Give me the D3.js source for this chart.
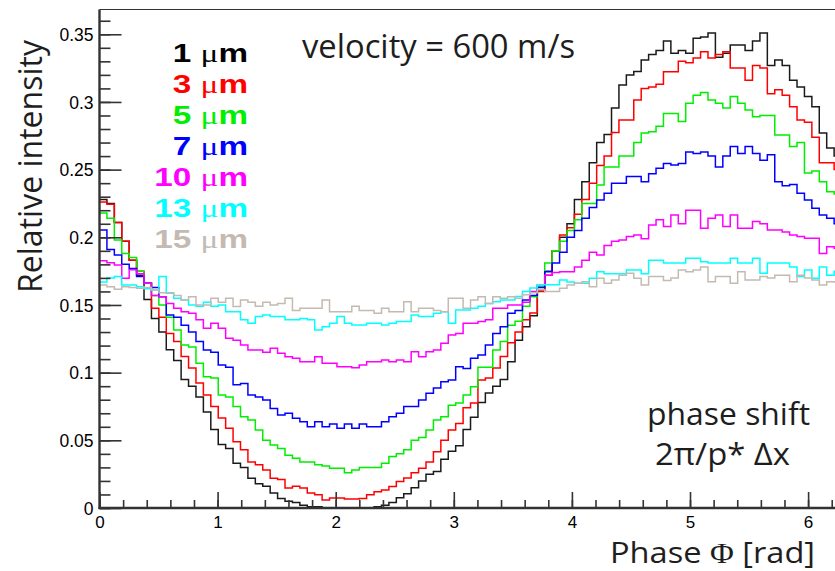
<!DOCTYPE html>
<html>
<head>
<meta charset="utf-8">
<script src="https://cdn.jsdelivr.net/npm/d3@7"></script>
<style>
  html, body { margin: 0; padding: 0; background: #fff; }
  svg { display: block; }
</style>
</head>
<body>
<svg id="chart" width="835" height="571"></svg>
<script>
// ---------------- DATA ----------------
const legendLabels = ["1", "3", "5", "7", "10", "13", "15"];
const seriesColors = ["#1a1a1a", "#ff0000", "#00ee00", "#0000ff", "#ff00ff", "#00ffff", "#c4bab2"];
const nBins = 100;
const phaseMax = 2 * Math.PI;

const s1um = [
  .228,.225,.211,.197,.183,.172,.154,.140,.130,.117,
  .109,.095,.090,.082,.071,.058,.047,.044,.033,.030,
  .022,.018,.016,.011,.007,.005,.004,.002,.001,.001,
  .000,.000,.000,.000,.000,.000,.000,.001,.002,.004,
  .0075,.0105,.015,.020,.025,.027,.036,.042,.046,.058,
  .067,.078,.085,.090,.095,.108,.124,.134,.142,.161,
  .175,.190,.200,.210,.228,.241,.255,.270,.276,.2955,
  .3125,.320,.3225,.331,.335,.338,.345,.336,.338,.336,
  .347,.348,.351,.333,.336,.342,.342,.338,.345,.351,
  .327,.331,.327,.316,.311,.304,.2965,.277,.266,.260
];
const s3um = [
  .226,.2245,.211,.197,.183,.175,.166,.1475,.141,.129,
  .123,.112,.1034,.0923,.0835,.075,.0665,.059,.049,.043,
  .034,.032,.028,.022,.021,.0148,.016,.0148,.011,.0097,
  .006,.0073,.0073,.0066,.0066,.007,.0097,.012,.0133,.0158,
  .0195,.0222,.026,.0293,.034,.0416,.050,.0576,.0625,.074,
  .0776,.0946,.096,.1034,.112,.122,.130,.139,.144,.160,
  .172,.190,.2017,.207,.217,.228,.240,.253,.260,.2775,
  .2867,.2867,.3015,.310,.311,.313,.3224,.3224,.330,.329,
  .3325,.337,.3325,.335,.337,.325,.325,.316,.327,.325,
  .306,.309,.305,.2965,.2867,.285,.274,.255,.255,.250
];
const s5um = [
  .218,.214,.198,.188,.185,.175,.166,.157,.150,.141,
  .1315,.1204,.119,.107,.097,.096,.0835,.082,.075,.0675,
  .065,.0576,.050,.0465,.044,.039,.0367,.034,.034,.032,
  .031,.0293,.0293,.026,.028,.030,.030,.030,.033,.038,
  .040,.043,.050,.052,.0576,.065,.0675,.076,.0776,.0835,
  .0896,.104,.104,.1167,.123,.135,.138,.149,.156,.1635,
  .181,.190,.197,.205,.213,.225,.225,.2387,.252,.252,
  .260,.260,.270,.277,.278,.282,.2915,.2915,.2855,.299,
  .305,.307,.3015,.299,.2955,.304,.299,.294,.289,.290,
  .290,.2756,.2756,.267,.270,.2475,.249,.241,.2337,.232
];
const s7um = [
  .2054,.191,.187,.180,.177,.171,.166,.163,.156,.1426,
  .141,.135,.130,.123,.1167,.115,.1057,.104,.091,.092,
  .0835,.082,.0798,.0736,.0687,.070,.0663,.0638,.060,.0638,
  .060,.062,.0589,.062,.0589,.062,.060,.060,.0638,.0675,
  .070,.075,.075,.0798,.0847,.0886,.0933,.0946,.1044,.103,
  .1106,.113,.1204,.129,.134,.1438,.146,.1537,.157,.163,
  .1746,.181,.189,.200,.205,.214,.222,.2276,.2325,.240,
  .240,.245,.245,.241,.247,.251,.2545,.2535,.2545,.263,
  .262,.263,.260,.252,.260,.267,.262,.267,.262,.257,
  .261,.241,.238,.239,.2325,.2276,.2215,.2165,.214,.210
];
const s10um = [
  .1827,.1812,.1795,.1697,.176,.173,.166,.157,.156,.151,
  .1475,.145,.1438,.139,.1328,.1365,.1328,.1254,.124,.1204,
  .1167,.1167,.115,.118,.1143,.1118,.1106,.108,.108,.1118,
  .107,.107,.1044,.1044,.1036,.1057,.108,.108,.1094,.108,
  .1094,.108,.1155,.1118,.1155,.1167,.1217,.1278,.129,.1365,
  .1365,.1377,.139,.1475,.1475,.150,.150,.152,.160,.165,
  .172,.174,.1746,.1746,.178,.183,.189,.187,.194,.197,
  .198,.2005,.2017,.199,.209,.213,.208,.2165,.210,.220,
  .220,.2066,.214,.2165,.208,.2165,.2066,.2066,.2116,.210,
  .2054,.2054,.204,.2017,.2005,.1993,.1993,.188,.193,.192
];
const s13um = [
  .167,.170,.171,.1648,.1648,.1635,.162,.161,.171,.1586,
  .155,.1537,.150,.149,.152,.149,.150,.145,.145,.139,
  .1365,.1414,.1426,.1414,.1414,.139,.139,.140,.139,.1315,
  .134,.1365,.1414,.1365,.1352,.1352,.1365,.1365,.1352,.1365,
  .1377,.1377,.1426,.1414,.1414,.1438,.145,.1365,.1463,.1463,
  .1475,.149,.151,.1524,.1537,.1537,.1562,.160,.1625,.165,
  .165,.165,.1685,.167,.166,.166,.1697,.1746,.173,.173,
  .173,.1758,.1758,.173,.183,.183,.181,.181,.181,.1845,
  .1845,.182,.181,.181,.181,.1845,.181,.181,.1845,.1734,
  .181,.181,.181,.178,.171,.1758,.1697,.178,.172,.175
];
const s15um = [
  .1648,.1635,.1616,.1635,.163,.1623,.163,.161,.159,.159,
  .157,.1537,.156,.150,.150,.155,.152,.155,.1488,.1537,
  .152,.149,.152,.150,.151,.155,.146,.1475,.1475,.1475,
  .1537,.145,.145,.145,.149,.146,.146,.1438,.1475,.145,
  .145,.1524,.145,.1475,.1475,.146,.145,.155,.155,.1475,
  .1537,.156,.151,.156,.155,.156,.155,.1575,.159,.1612,
  .160,.160,.1623,.1648,.166,.1672,.1635,.1697,.166,.1685,
  .172,.1734,.1697,.1648,.171,.171,.168,.170,.1758,.1746,
  .1758,.178,.1672,.171,.171,.166,.1746,.1685,.1685,.171,
  .170,.172,.172,.1672,.172,.170,.1685,.1648,.1672,.167
];
const allSeries = [s1um, s3um, s5um, s7um, s10um, s13um, s15um];

const yMajorTicks = [0, 0.05, 0.1, 0.15, 0.2, 0.25, 0.3, 0.35];
const yMajorLabels = ["0", "0.05", "0.1", "0.15", "0.2", "0.25", "0.3", "0.35"];
const xMajorTicks = [0, 1, 2, 3, 4, 5, 6];
const xMajorLabels = ["0", "1", "2", "3", "4", "5", "6"];

// ---------------- LAYOUT ----------------
const svg = d3.select("#chart");
const plotLeft = 99.5, plotBottom = 508, plotTop = 9.5, pxPerRad = 118.1;
const x = d3.scaleLinear().domain([0, phaseMax]).range([plotLeft, plotLeft + phaseMax * pxPerRad]);
const y = d3.scaleLinear().domain([0, 0.3683]).range([plotBottom, plotTop]);

svg.append("defs").append("clipPath").attr("id", "plotclip")
  .append("rect").attr("x", plotLeft).attr("y", plotTop).attr("width", 760).attr("height", plotBottom - plotTop);

// histograms
const binW = phaseMax / nBins;
const line = d3.line().x(d => x(d[0])).y(d => y(d[1]));
const gHist = svg.append("g").attr("clip-path", "url(#plotclip)");
allSeries.forEach((vals, si) => {
  const pts = [];
  vals.forEach((v, i) => { pts.push([i * binW, v]); pts.push([(i + 1) * binW, v]); });
  gHist.append("path").attr("d", line(pts))
    .attr("fill", "none").attr("stroke", seriesColors[si])
    .attr("stroke-width", 1.5).attr("stroke-linejoin", "miter");
});

// frame
svg.append("line").attr("x1", plotLeft).attr("x2", 835).attr("y1", plotTop).attr("y2", plotTop)
  .attr("stroke", "#333").attr("stroke-width", 1.2);

// Y axis
const yMinor = d3.range(0, 0.3651, 0.01);
const yAxisMinor = d3.axisLeft(y).tickValues(yMinor).tickSize(-11).tickFormat("");
const yAxisMajor = d3.axisLeft(y).tickValues(yMajorTicks).tickSize(-22).tickPadding(6)
  .tickFormat((d, i) => yMajorLabels[i]);
const gyMin = svg.append("g").attr("transform", `translate(${plotLeft},0)`).call(yAxisMinor);
const gy = svg.append("g").attr("transform", `translate(${plotLeft},0)`).call(yAxisMajor);
[gyMin, gy].forEach(g => {
  g.select(".domain").remove();
  g.selectAll(".tick line").attr("stroke", "#333").attr("stroke-width", 1.6);
});
gy.selectAll(".tick text").attr("font-family", "Liberation Sans, Arial, sans-serif")
  .attr("font-size", 17.5).attr("fill", "#000").attr("dy", "0.36em");

// X axis
const xMinor = d3.range(0, 6.21, 0.2);
const xAxisMinor = d3.axisBottom(x).tickValues(xMinor).tickSize(-8).tickFormat("");
const xAxisMajor = d3.axisBottom(x).tickValues(xMajorTicks).tickSize(-16).tickPadding(8)
  .tickFormat((d, i) => xMajorLabels[i]);
const gxMin = svg.append("g").attr("transform", `translate(0,${plotBottom})`).call(xAxisMinor);
const gx = svg.append("g").attr("transform", `translate(0,${plotBottom})`).call(xAxisMajor);
[gxMin, gx].forEach(g => {
  g.select(".domain").remove();
  g.selectAll(".tick line").attr("stroke", "#333").attr("stroke-width", 1.6);
});
gx.selectAll(".tick text").attr("font-family", "Liberation Sans, Arial, sans-serif")
  .attr("font-size", 17).attr("fill", "#000").attr("y", 20).attr("dy", "0");

// axis lines
svg.append("line").attr("x1", plotLeft).attr("x2", plotLeft).attr("y1", plotTop).attr("y2", plotBottom + 1)
  .attr("stroke", "#333").attr("stroke-width", 2.4);
svg.append("line").attr("x1", plotLeft - 1).attr("x2", 835).attr("y1", plotBottom).attr("y2", plotBottom)
  .attr("stroke", "#333").attr("stroke-width", 2.6);

// texts (Calibri-like)
const sansFont = "Open Sans, Lato, sans-serif";
svg.append("text").attr("transform", "translate(42,166.5) rotate(-90)")
  .attr("text-anchor", "middle").attr("font-family", sansFont).attr("font-size", 32)
  .attr("fill", "#1e1e1e").attr("textLength", 253).attr("lengthAdjust", "spacingAndGlyphs")
  .text("Relative intensity");
svg.append("text").attr("x", 302).attr("y", 58).attr("font-family", sansFont).attr("font-size", 32)
  .attr("fill", "#1e1e1e").attr("textLength", 273).attr("lengthAdjust", "spacingAndGlyphs")
  .text("velocity = 600 m/s");
svg.append("text").attr("x", 647).attr("y", 425).attr("font-family", sansFont).attr("font-size", 31)
  .attr("fill", "#1e1e1e").attr("textLength", 163).attr("lengthAdjust", "spacingAndGlyphs")
  .text("phase shift");
svg.append("text").attr("x", 655).attr("y", 465).attr("font-family", sansFont).attr("font-size", 31)
  .attr("fill", "#1e1e1e").attr("textLength", 135).attr("lengthAdjust", "spacingAndGlyphs")
  .text("2π/p* Δx");
const xt = svg.append("text").attr("x", 610).attr("y", 563).attr("font-family", sansFont)
  .attr("font-size", 29).attr("fill", "#1e1e1e")
  .attr("textLength", 205).attr("lengthAdjust", "spacingAndGlyphs");
xt.append("tspan").text("Phase ");
xt.append("tspan").attr("font-family", "Liberation Serif, serif").text("Φ");
xt.append("tspan").text(" [rad]");

// legend
const gLeg = svg.append("g");
legendLabels.forEach((lab, i) => {
  const t = gLeg.append("text")
    .attr("transform", `translate(248,${62 + i * 31}) scale(1.28,1)`)
    .attr("text-anchor", "end").attr("fill", seriesColors[i] === "#1a1a1a" ? "#000" : seriesColors[i])
    .attr("font-family", "Liberation Sans, Arial, sans-serif").attr("font-size", 26);
  t.append("tspan").attr("font-weight", "bold").text(lab + " ");
  t.append("tspan").attr("font-family", "Liberation Serif, serif").attr("font-weight", "normal").text("μ");
  t.append("tspan").attr("font-weight", "bold").text("m");
});
</script>
</body>
</html>
